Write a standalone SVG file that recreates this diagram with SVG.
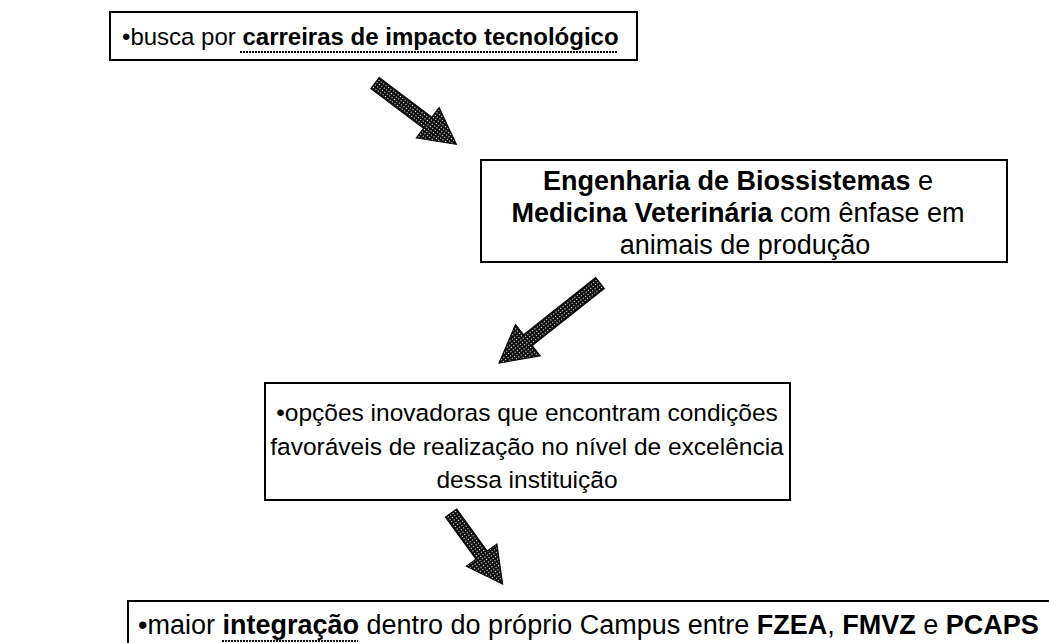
<svg xmlns="http://www.w3.org/2000/svg" width="1049" height="643" viewBox="0 0 1049 643">
<defs>
<pattern id="stip" width="3" height="3" patternUnits="userSpaceOnUse">
<rect width="3" height="3" fill="#111"/>
<rect x="1" y="1" width="1" height="1" fill="#fff"/>
</pattern>
<style>
.box{fill:#fff;stroke:#000;stroke-width:2}
.t{font-family:"Liberation Sans",Arial,sans-serif;fill:#000}
.b{font-weight:bold}
.arrow{fill:url(#stip);stroke:#000;stroke-width:1}
.ul{stroke:#000;stroke-width:2;stroke-dasharray:2 1}
</style>
</defs>
<rect width="1049" height="643" fill="#fff"/>
<g id="connectors">
<path class="arrow" transform="translate(375,83) rotate(37)" d="M0,-7 L66,-7 L66,-19 L102,0 L66,19 L66,7 L0,7 Z"/>
<path class="arrow" transform="translate(600,283) rotate(141.6)" d="M0,-7 L92,-7 L92,-20 L129,0 L92,20 L92,7 L0,7 Z"/>
<path class="arrow" transform="translate(451,513) rotate(54)" d="M0,-7 L52,-7 L52,-19 L88,0 L52,19 L52,7 L0,7 Z"/>
</g>
<g id="node1">
<rect class="box" x="110" y="12" width="527" height="48"/>
<text class="t" font-size="24" x="122" y="45">•busca por <tspan class="b">carreiras de impacto tecnológico</tspan></text>
<line class="ul" x1="240" y1="52" x2="617" y2="52"/>
</g>
<g id="node2">
<rect class="box" x="481" y="160" width="526" height="102"/>
<text class="t" font-size="27" text-anchor="middle" x="738" y="190"><tspan class="b">Engenharia de Biossistemas</tspan> e</text>
<text class="t" font-size="27" text-anchor="middle" x="738" y="222"><tspan class="b">Medicina Veterinária</tspan> com ênfase em</text>
<text class="t" font-size="27" text-anchor="middle" x="745" y="254">animais de produção</text>
</g>
<g id="node3">
<rect class="box" x="265" y="383" width="525" height="117"/>
<text class="t" font-size="24.5" text-anchor="middle" x="527" y="421">•opções inovadoras que encontram condições</text>
<text class="t" font-size="24.5" text-anchor="middle" x="527" y="455">favoráveis de realização no nível de excelência</text>
<text class="t" font-size="24.5" text-anchor="middle" x="527" y="488">dessa instituição</text>
</g>
<g id="node4">
<rect class="box" x="128" y="601" width="930" height="60"/>
<text class="t" font-size="27" x="138" y="634">•maior <tspan class="b">integração</tspan> dentro do próprio Campus entre <tspan class="b">FZEA</tspan>, <tspan class="b">FMVZ</tspan> e <tspan class="b">PCAPS</tspan></text>
<line class="ul" x1="222" y1="641" x2="358" y2="641"/>
</g>
</svg>
